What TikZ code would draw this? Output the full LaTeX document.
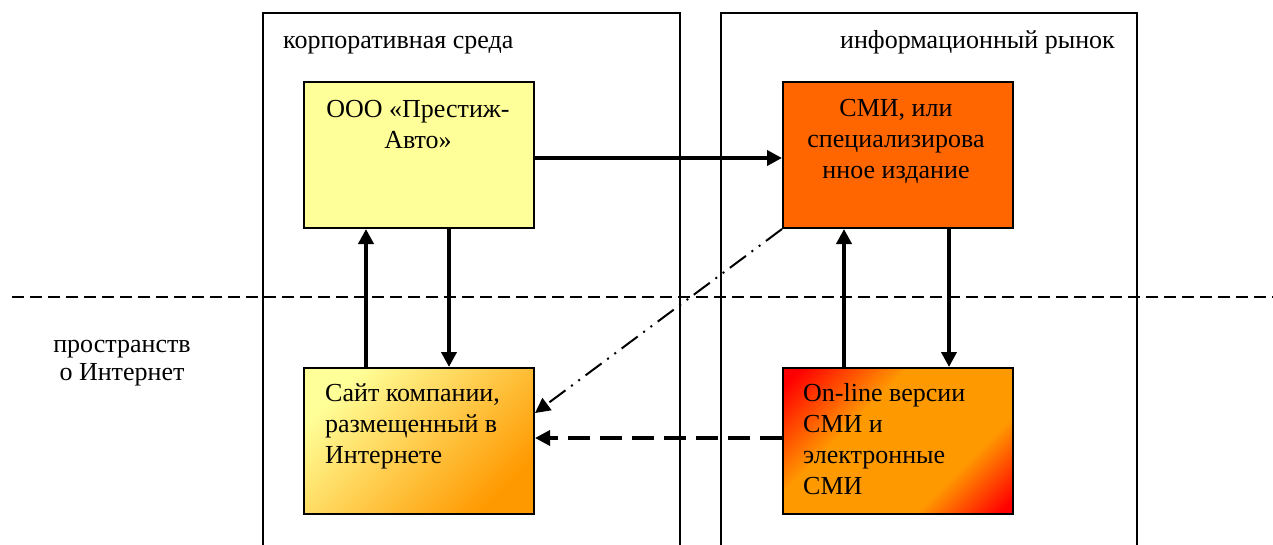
\documentclass[tikz,border=0pt]{standalone}
\usepackage{fontspec}
\setmainfont{Liberation Serif}
\usetikzlibrary{arrows.meta}
\definecolor{lyellow}{HTML}{FFFF99}
\definecolor{dorange}{HTML}{FF6600}
\definecolor{morange}{HTML}{FF9900}
\definecolor{pred}{HTML}{FF0000}
\pgfdeclareverticalshading{onlshade}{100bp}{color(0bp)=(pred); color(17bp)=(pred); color(33bp)=(morange); color(62bp)=(morange); color(82bp)=(pred); color(100bp)=(pred)}
\begin{document}
\begin{tikzpicture}[x=1pt,y=-1pt,
  frame/.style={draw,line width=1.8pt,inner sep=0pt,anchor=north west},
  box/.style={draw,line width=2pt,minimum width=230pt,minimum height=146pt,inner sep=0pt,anchor=north west},
  lbl/.style={font=\fontsize{26}{31}\selectfont,inner sep=0pt},
  solidarrow/.style={line width=4pt,-{Triangle[length=15pt,width=15pt]}},
  dasharrow/.style={line width=3.5pt,dash pattern=on 22pt off 10pt,-{Triangle[length=15pt,width=15pt]}},
  dotarrow/.style={line width=2pt,dash pattern=on 20pt off 7pt on 2pt off 7pt on 2pt off 7pt,-{Triangle[length=15pt,width=15pt]}},
  border/.style={line width=2pt,dash pattern=on 12pt off 6pt}]
\useasboundingbox (0,0) rectangle (1273,544);
\clip (0,0) rectangle (1273,544);
\node[frame,minimum width=417pt,minimum height=600pt] (f1) at (262,12) {};
\node[frame,minimum width=416pt,minimum height=600pt] (f2) at (720,12) {};
\coordinate (hl) at (12,297);
\coordinate (hr) at (1280,297);
\draw[border] (hl) -- (hr);
\node[lbl,anchor=base west] (l1) at (283,48) {корпоративная среда};
\node[lbl,anchor=base east] (l2) at (1115,48) {информационный рынок};
\node[lbl,anchor=base,align=center,font=\fontsize{26}{28}\selectfont] (l3) at (122,380) {пространств\\о Интернет};
\node[box,fill=lyellow] (b1) at (303,81) {};
\node[box,fill=dorange] (b2) at (782,81) {};
\node[box,top color=lyellow,bottom color=morange,shading angle=45] (b3) at (303,367) {};
\node[box,shading=onlshade,shading angle=45] (b4) at (782,367) {};
\node[lbl,anchor=base,align=center] (t1) at (418,148) {ООО «Престиж-\\Авто»};
\node[lbl,anchor=base,align=center] (t2) at (896,178) {СМИ, или\\специализирова\\нное издание};
\node[lbl,anchor=base west,align=left] (t3) at (325,463) {Сайт компании,\\размещенный в\\Интернете};
\node[lbl,anchor=base west,align=left] (t4) at (803,494) {On-line версии\\СМИ и\\электронные\\СМИ};
\draw[solidarrow] ([yshift=-3pt]b1.east) -- ([yshift=-3pt]b2.west);
\draw[solidarrow] ([xshift=63pt]b3.north west) -- ([xshift=63pt]b1.south west);
\draw[solidarrow] ([xshift=146pt]b1.south west) -- ([xshift=146pt]b3.north west);
\draw[solidarrow] ([xshift=62pt]b4.north west) -- ([xshift=62pt]b2.south west);
\draw[solidarrow] ([xshift=167pt]b2.south west) -- ([xshift=167pt]b4.north west);
\draw[dotarrow] (b2.south west) -- ([yshift=-46pt]b3.north east);
\draw[dasharrow] ([yshift=3pt]b4.west) -- ([yshift=3pt]b3.east);
\end{tikzpicture}
\end{document}
